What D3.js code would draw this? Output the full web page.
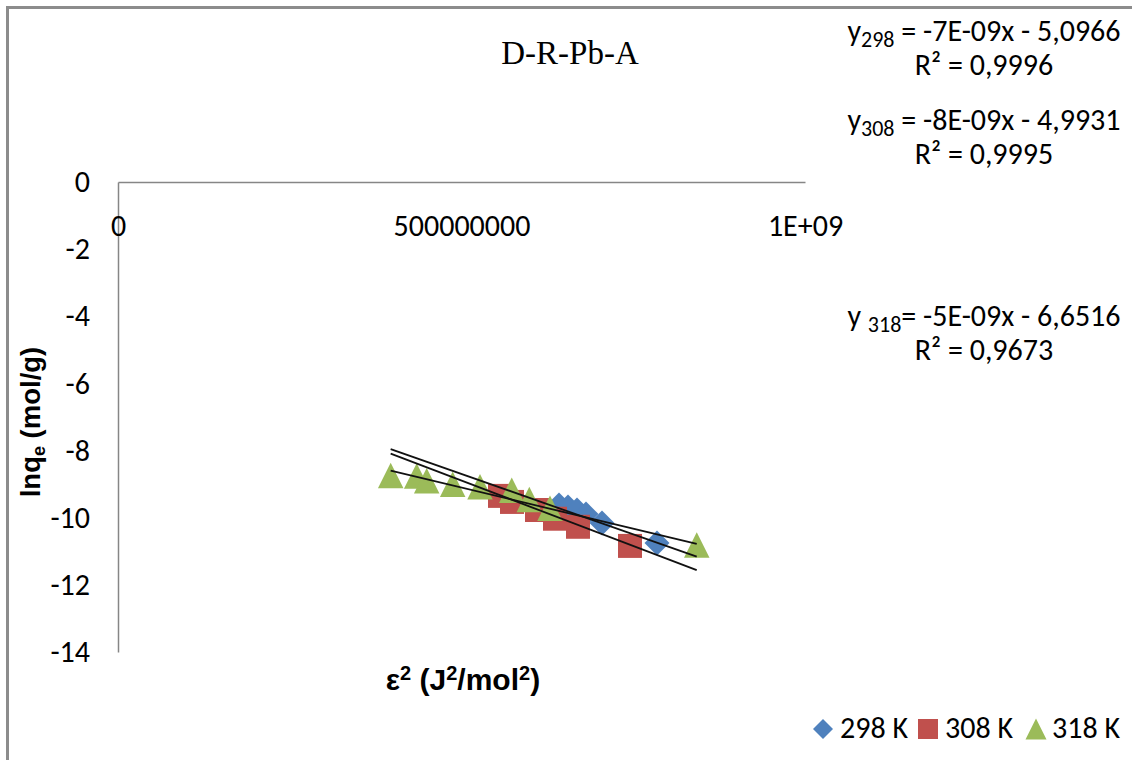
<!DOCTYPE html>
<html>
<head>
<meta charset="utf-8">
<script src="https://cdn.jsdelivr.net/npm/d3@7"></script>
<style>
  html, body { margin: 0; padding: 0; background: #fff; }
  svg { display: block; }
</style>
</head>
<body>
<svg id="chart" width="1132" height="760"></svg>
<script>
// Dubinin–Radushkevich plot: ln qe against ε² at three temperatures
const seriesNames = ["298 K", "308 K", "318 K"];
const seriesColors = ["#4F81BD", "#C0504D", "#9BBB59"];
const seriesShapes = ["diamond", "square", "triangle"];

const eps2_298 = [641.9e6, 655.0e6, 668.1e6, 681.2e6, 704.5e6, 784.6e6];
const lnqe_298 = [-9.62, -9.68, -9.77, -9.89, -10.16, -10.75];

const eps2_308 = [556.0e6, 573.5e6, 609.9e6, 636.1e6, 669.6e6, 745.3e6];
const lnqe_308 = [-9.35, -9.53, -9.77, -10.03, -10.27, -10.84];

const eps2_318 = [396.9e6, 434.8e6, 449.3e6, 487.2e6, 526.9e6, 573.1e6, 598.7e6, 628.8e6, 842.4e6];
const lnqe_318 = [-8.74, -8.76, -8.90, -9.00, -9.08, -9.18, -9.46, -9.72, -10.81];

// linear trendlines y = a·x + b
const trendSlopes = [-7.2e-9, -7.8e-9, -4.9e-9];
const trendIntercepts = [-5.0966, -4.9931, -6.6516];
const trendR2 = [0.9996, 0.9995, 0.9673];
const trendLabelTemps = ["298", "308", "318"];

const xTickValues = [0, 5e8, 1e9];
const xTickLabels = ["0", "500000000", "1E+09"];
const yTickValues = [0, -2, -4, -6, -8, -10, -12, -14];

const xSets = [eps2_298, eps2_308, eps2_318];
const ySets = [lnqe_298, lnqe_308, lnqe_318];
const series = seriesNames.map((name, i) => ({
  name,
  color: seriesColors[i],
  shape: seriesShapes[i],
  points: xSets[i].map((xv, j) => ({ x: xv, y: ySets[i][j] }))
}));

const svg = d3.select("#chart");
const sansFont = "Carlito, Calibri, Lato, sans-serif";
const textSize = "30px";

// outer chart frame
svg.append("rect")
  .attr("x", 7.5).attr("y", 7.5)
  .attr("width", 1400).attr("height", 1400)
  .attr("fill", "none").attr("stroke", "#8c8c8c").attr("stroke-width", 3);

const x = d3.scaleLinear().domain([0, 1e9]).range([118, 805]);
const y = d3.scaleLinear().domain([0, -14]).range([182, 652]);

// axes
const yAxis = svg.append("g")
  .attr("transform", `translate(${x(0)},0)`)
  .call(d3.axisLeft(y).tickValues(yTickValues).tickSize(0).tickPadding(28)
    .tickFormat(d => String(d)));
const xAxis = svg.append("g")
  .attr("transform", `translate(0,${y(0)})`)
  .call(d3.axisBottom(x).tickValues(xTickValues).tickSize(0).tickPadding(33)
    .tickFormat((d, i) => xTickLabels[i]));

[xAxis, yAxis].forEach(g => {
  g.select(".domain").attr("stroke", "#868686").attr("stroke-width", 1.5);
  g.selectAll("text")
    .attr("fill", "#000")
    .style("font-family", sansFont)
    .style("font-size", textSize);
});

// marker shapes
function markerPath(shape, s) {
  const h = s / 2;
  if (shape === "diamond") return `M0,${-h}L${h},0L0,${h}L${-h},0Z`;
  if (shape === "square") return `M${-h},${-h}H${h}V${h}H${-h}Z`;
  return `M0,${-h}L${h},${h}L${-h},${h}Z`;
}
const markerSize = { diamond: 25, square: 24, triangle: 25.5 };

const plot = svg.append("g");
series.forEach(s => {
  plot.append("g").selectAll("path")
    .data(s.points)
    .join("path")
    .attr("transform", d => `translate(${x(d.x)},${y(d.y)})`)
    .attr("d", markerPath(s.shape, markerSize[s.shape]))
    .attr("fill", s.color);
});

// trendlines across the full ε² range of the data
const allX = series.flatMap(s => s.points.map(p => p.x));
const [xMin, xMax] = d3.extent(allX);
const trendLine = d3.line().x(d => x(d[0])).y(d => y(d[1]));
trendSlopes.forEach((a, i) => {
  const b = trendIntercepts[i];
  plot.append("path")
    .attr("d", trendLine([[xMin, a * xMin + b], [xMax, a * xMax + b]]))
    .attr("fill", "none")
    .attr("stroke", "#111")
    .attr("stroke-width", 1.8);
});

// title
svg.append("text")
  .attr("x", 570).attr("y", 64)
  .attr("text-anchor", "middle")
  .style("font-family", "'Liberation Serif', 'Times New Roman', serif")
  .style("font-size", "33px")
  .text("D-R-Pb-A");

// axis titles
const boldFont = "'Liberation Sans', Arial, sans-serif";
svg.append("text")
  .attr("transform", "translate(40,422) rotate(-90)")
  .attr("text-anchor", "middle")
  .style("font-family", boldFont)
  .style("font-weight", "bold")
  .style("font-size", "27.5px")
  .call(t => {
    t.append("tspan").text("lnq");
    t.append("tspan").attr("dy", 5).style("font-size", "18px").text("e");
    t.append("tspan").attr("dy", -5).text(" (mol/g)");
  });

svg.append("text")
  .attr("x", 463).attr("y", 690)
  .attr("text-anchor", "middle")
  .style("font-family", boldFont)
  .style("font-weight", "bold")
  .style("font-size", "30px")
  .call(t => {
    const sup = () => t.append("tspan").attr("dy", -10).style("font-size", "20px").text("2");
    const base = s => t.append("tspan").attr("dy", 10).text(s);
    t.append("tspan").text("ε");
    sup(); base(" (J");
    sup(); base("/mol");
    sup(); base(")");
  });

// trendline equations
function fmtSlope(a) {
  const [m, e] = a.toExponential(0).split("e");
  const ev = +e;
  return `${m}E${ev < 0 ? "-" : "+"}${String(Math.abs(ev)).padStart(2, "0")}`;
}
function fmtDec(v) {
  return v.toFixed(4).replace(".", ",");
}
const eqBaselines = [41, 130, 326];
trendSlopes.forEach((a, i) => {
  const b = trendIntercepts[i];
  const cx = 984;
  const eq = svg.append("text")
    .attr("x", cx).attr("y", eqBaselines[i])
    .attr("text-anchor", "middle")
    .style("font-family", sansFont)
    .style("font-size", textSize);
  eq.append("tspan").text(i === 2 ? "y " : "y");
  eq.append("tspan").attr("dy", 6).style("font-size", "22px").text(trendLabelTemps[i]);
  const rest = `${i === 2 ? "" : " "}= ${fmtSlope(a)}x ${b < 0 ? "-" : "+"} ${fmtDec(Math.abs(b))}`;
  eq.append("tspan").attr("dy", -6).text(rest);

  svg.append("text")
    .attr("x", cx).attr("y", eqBaselines[i] + 34)
    .attr("text-anchor", "middle")
    .style("font-family", sansFont)
    .style("font-size", textSize)
    .text(`R² = ${fmtDec(trendR2[i])}`);
});

// legend
const legendItems = [
  { mx: 823, tx: 840 },
  { mx: 928, tx: 945 },
  { mx: 1036, tx: 1052 }
];
series.forEach((s, i) => {
  const it = legendItems[i];
  svg.append("path")
    .attr("transform", `translate(${it.mx},729)`)
    .attr("d", markerPath(s.shape, s.shape === "triangle" ? 21 : 20))
    .attr("fill", s.color);
  svg.append("text")
    .attr("x", it.tx).attr("y", 738)
    .style("font-family", sansFont)
    .style("font-size", textSize)
    .text(s.name);
});
</script>
</body>
</html>
